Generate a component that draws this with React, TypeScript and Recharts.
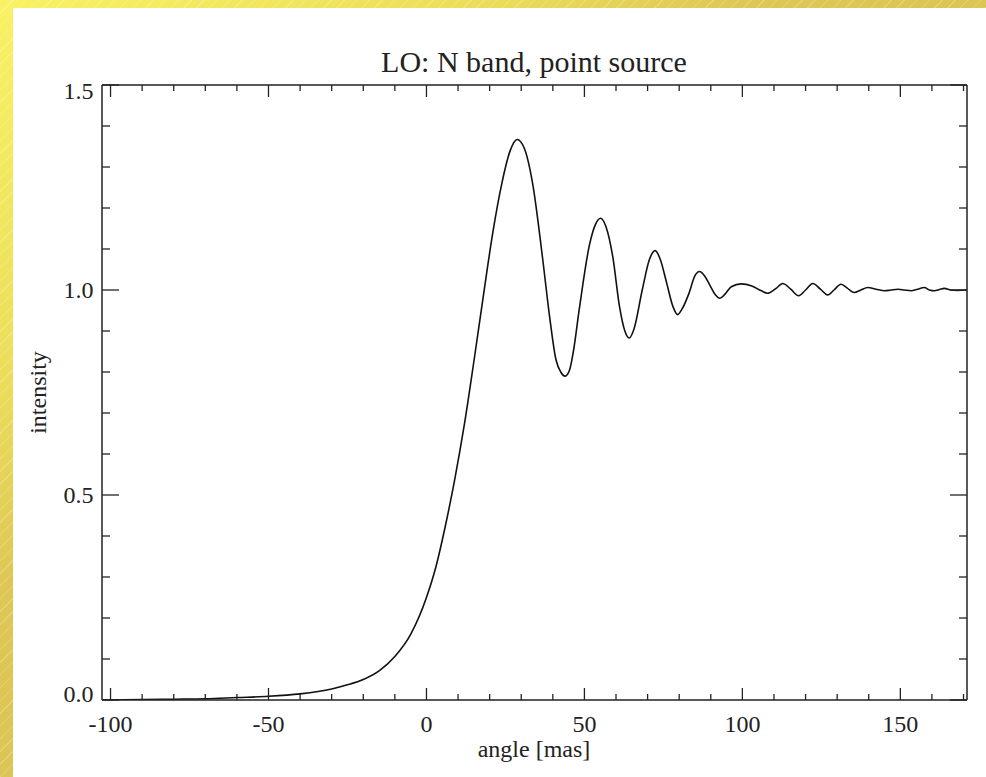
import { LineChart, Line, XAxis, YAxis } from "recharts";

// angle [mas] -> intensity
const angle = [
  -102.7, -90, -80, -70, -60, -50, -40, -30, -25, -20, -15, -10, -5, 0, 3, 6, 9,
  12, 15, 18, 21, 24, 26.5, 28.7, 31, 33.6, 36.8, 38.9, 41, 42.5, 43.9, 45.3,
  46.5, 48.4, 51.6, 53.5, 55.1, 56.8, 59, 61.1, 62.8, 64.2, 65.7, 68.3, 70.6,
  72.4, 74, 76, 78, 79.5, 81, 83, 85, 86.4, 88, 89.7, 91.5, 92.9, 94.5, 96.5,
  99.6, 103, 106, 108, 110.5, 112.8, 115.3, 117.8, 120, 122.3, 124.7, 127, 129,
  131.2, 133.3, 135.4, 137.5, 139.7, 142.3, 145, 147, 149.2, 151.3, 153.4, 155.5,
  157.6, 159.2, 160.8, 162.4, 163.9, 166, 168, 171.1,
];
const intensity = [
  0.0, 0.001, 0.002, 0.003, 0.006, 0.009, 0.015, 0.027, 0.037, 0.05, 0.071,
  0.106, 0.16, 0.25, 0.325, 0.425, 0.54, 0.672, 0.825, 0.985, 1.14, 1.265, 1.34,
  1.367, 1.345, 1.26, 1.075, 0.94, 0.83, 0.8, 0.79, 0.805, 0.85, 0.955, 1.11,
  1.16, 1.175, 1.155, 1.08, 0.96, 0.9, 0.883, 0.905, 1.0, 1.075, 1.096, 1.075,
  1.018, 0.96, 0.94, 0.955, 0.99, 1.035, 1.045, 1.035, 1.012, 0.988, 0.98, 0.99,
  1.008, 1.015, 1.01, 0.998, 0.992, 1.003, 1.016, 1.002, 0.986, 1.0, 1.016, 1.002,
  0.988, 1.0, 1.014, 1.004, 0.994, 1.0, 1.006, 1.002, 0.998, 1.0, 1.002, 1.0,
  0.998, 1.002, 1.006, 1.0, 0.998, 1.001, 1.004, 1.0, 0.999, 1.0,
];

const xTicks = [
  -100, -90, -80, -70, -60, -50, -40, -30, -20, -10, 0, 10, 20, 30, 40, 50, 60,
  70, 80, 90, 100, 110, 120, 130, 140, 150, 160, 170,
];
const yTicks = [
  0, 0.1, 0.2, 0.3, 0.4, 0.5, 0.6, 0.7, 0.8, 0.9, 1.0, 1.1, 1.2, 1.3, 1.4, 1.5,
];

const data = angle.map((a, i) => ({ angle: a, intensity: intensity[i] }));

const FONT = "'Liberation Serif', 'DejaVu Serif', serif";
const INK = "#222";

const isMajorX = (v: number) => v % 50 === 0;
const isMajorY = (v: number) => Math.abs(v * 2 - Math.round(v * 2)) < 1e-6;

const BottomTick = (props: any) => {
  const { x, y, payload } = props;
  const v = payload.value;
  const len = isMajorX(v) ? 12 : 6;
  return (
    <g>
      <line x1={x} y1={y} x2={x} y2={y - len} stroke={INK} strokeWidth={1.3} />
      {isMajorX(v) && (
        <text x={x} y={y + 31.5} textAnchor="middle" fontFamily={FONT} fontSize={24} fill={INK}>
          {v}
        </text>
      )}
    </g>
  );
};

const TopTick = (props: any) => {
  const { x, y, payload } = props;
  const len = isMajorX(payload.value) ? 12 : 6;
  return <line x1={x} y1={y} x2={x} y2={y + len} stroke={INK} strokeWidth={1.3} />;
};

const LeftTick = (props: any) => {
  const { x, y, payload } = props;
  const v = payload.value;
  const major = isMajorY(v);
  const dy = v >= 1.5 ? 14 : v === 0 ? 2 : 8;
  return (
    <g>
      <line x1={x} y1={y} x2={x + (major ? 17 : 8)} y2={y} stroke={INK} strokeWidth={1.3} />
      {major && (
        <text x={x - 8.5} y={y + dy} textAnchor="end" fontFamily={FONT} fontSize={24} fill={INK}>
          {v.toFixed(1)}
        </text>
      )}
    </g>
  );
};

const RightTick = (props: any) => {
  const { x, y, payload } = props;
  const len = isMajorY(payload.value) ? 17 : 8;
  return <line x1={x} y1={y} x2={x - len} y2={y} stroke={INK} strokeWidth={1.3} />;
};

export default function App() {
  const axisLine = { stroke: INK, strokeWidth: 1.5 };
  return (
    <div
      style={{
        position: "fixed",
        left: 0,
        top: 0,
        width: 986,
        height: 777,
        overflow: "hidden",
        background:
          "repeating-linear-gradient(135deg, rgba(255,255,255,0.22) 0 1px, rgba(255,255,255,0) 1px 9px), linear-gradient(to bottom right, #f8f264 0%, #ebdd5a 25%, #dec755 38%, #d6bd50 100%)",
      }}
    >
      <div style={{ position: "absolute", left: 13, top: 8, right: 0, bottom: 0, background: "#fff" }} />
      <div style={{ position: "absolute", left: 0, top: 0 }}>
        <LineChart width={986} height={777} data={data} margin={{ top: 75, right: 9, bottom: 37, left: 22 }}>
          <XAxis
            xAxisId="bottom"
            dataKey="angle"
            type="number"
            domain={[-102.7, 171.1]}
            allowDataOverflow
            ticks={xTicks}
            interval={0}
            height={40}
            tickSize={0}
            tickMargin={0}
            tickLine={false}
            axisLine={axisLine}
            tick={BottomTick}
          />
          <XAxis
            xAxisId="top"
            orientation="top"
            dataKey="angle"
            type="number"
            domain={[-102.7, 171.1]}
            allowDataOverflow
            ticks={xTicks}
            interval={0}
            height={10}
            tickSize={0}
            tickMargin={0}
            tickLine={false}
            axisLine={axisLine}
            tick={TopTick}
          />
          <YAxis
            yAxisId="left"
            type="number"
            domain={[0, 1.5]}
            allowDataOverflow
            ticks={yTicks}
            interval={0}
            width={80}
            tickSize={0}
            tickMargin={0}
            tickLine={false}
            axisLine={axisLine}
            tick={LeftTick}
          />
          <YAxis
            yAxisId="right"
            orientation="right"
            type="number"
            domain={[0, 1.5]}
            allowDataOverflow
            ticks={yTicks}
            interval={0}
            width={10}
            tickSize={0}
            tickMargin={0}
            tickLine={false}
            axisLine={axisLine}
            tick={RightTick}
          />
          <Line
            xAxisId="top"
            yAxisId="right"
            dataKey="intensity"
            stroke="none"
            dot={false}
            activeDot={false}
            isAnimationActive={false}
          />
          <Line
            xAxisId="bottom"
            yAxisId="left"
            type="monotone"
            dataKey="intensity"
            stroke="#111"
            strokeWidth={1.6}
            dot={false}
            activeDot={false}
            isAnimationActive={false}
          />
        </LineChart>
      </div>
      <svg width={986} height={777} style={{ position: "absolute", left: 0, top: 0, pointerEvents: "none" }}>
        <text x={534} y={72.3} textAnchor="middle" fontFamily={FONT} fontSize={30} fill={INK}>
          LO: N band, point source
        </text>
        <text x={534} y={756.5} textAnchor="middle" fontFamily={FONT} fontSize={24} fill={INK}>
          angle [mas]
        </text>
        <text
          x={46}
          y={392.5}
          transform="rotate(-90 46 392.5)"
          textAnchor="middle"
          fontFamily={FONT}
          fontSize={24}
          fill={INK}
        >
          intensity
        </text>
      </svg>
    </div>
  );
}
